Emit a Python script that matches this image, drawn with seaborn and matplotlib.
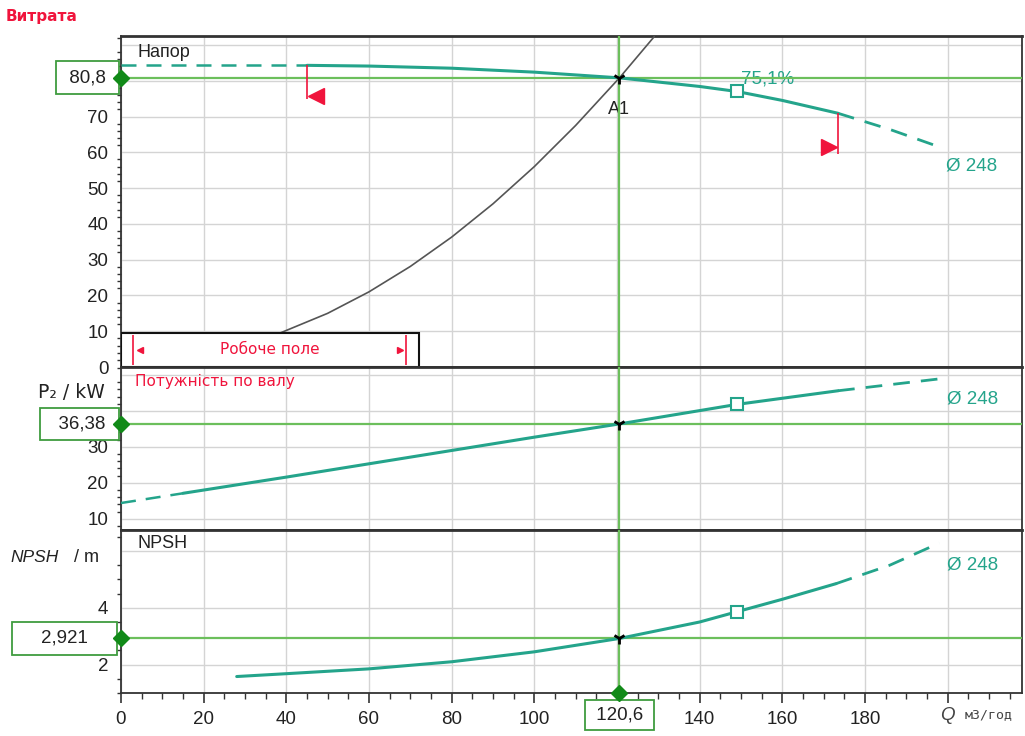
import matplotlib
matplotlib.use("Agg")
import matplotlib.pyplot as plt
import matplotlib.transforms as mtransforms
from matplotlib.ticker import MultipleLocator
import seaborn as sns
import pandas as pd

# ---------------- data ----------------
q_op = 120.6
h_op = 80.8
p_op = 36.38
npsh_op = 2.921

# head curve (Ø 248)
q_head_dl = [0, 45]
h_head_dl = [84.3, 84.3]
q_head = [45, 60, 80, 100, 120.6, 140, 149, 160, 173.5]
h_head = [84.3, 84.1, 83.5, 82.4, 80.8, 78.4, 77.0, 74.5, 70.9]
q_head_dr = [173.5, 186, 198.5]
h_head_dr = [70.9, 66.4, 61.3]

# system curve
q_sys = [0, 20, 38.5, 50, 60, 70, 80, 90, 100, 110, 120.6, 129]
h_sys = [1.4, 3.6, 9.5, 15.0, 21.0, 28.1, 36.3, 45.6, 56.0, 67.5, 80.8, 92.3]

# shaft power
q_pow_dl = [0, 15]
p_pow_dl = [14.4, 17.1]
q_pow = [15, 40, 60, 80, 100, 120.6, 149, 173.5]
p_pow = [17.1, 21.6, 25.3, 29.0, 32.7, 36.38, 41.8, 45.6]
q_pow_dr = [173.5, 198]
p_pow_dr = [45.6, 48.9]

# NPSH
q_npsh = [28, 40, 60, 80, 100, 120.6, 140, 149, 160, 173]
n_npsh = [1.58, 1.68, 1.85, 2.1, 2.45, 2.921, 3.5, 3.86, 4.3, 4.85]
q_npsh_dr = [173, 186, 198]
n_npsh_dr = [4.85, 5.5, 6.28]

# best efficiency point marker
q_bep = 149
h_bep = 77.0
p_bep = 41.8
n_bep = 3.86
eff_label = "75,1%"

# operating range limits
q_min = 45
q_max = 173.5

x_ticks = [0, 20, 40, 60, 80, 100, 120, 140, 160, 180]
h_ticks = [0, 10, 20, 30, 40, 50, 60, 70]
p_ticks = [10, 20, 30]
n_ticks = [2, 4]

# ---------------- style ----------------
sns.set_theme(style="white")
plt.rcParams['font.family'] = ['Liberation Sans', 'DejaVu Sans']

TEAL = "#24a48b"
GREEN = "#6cbf5c"
DGREEN = "#118a18"
BOXG = "#3f9c3f"
RED = "#f0143c"
GRID = "#d4d4d4"
TXT = "#222222"

fig = plt.figure(figsize=(10.25, 7.36), dpi=100)
L, W = 121 / 1025, (1022 - 121) / 1025
ax1 = fig.add_axes([L, 1 - 367 / 736, W, (367 - 36) / 736])
ax2 = fig.add_axes([L, 1 - 530 / 736, W, 163 / 736])
ax3 = fig.add_axes([L, 1 - 693 / 736, W, 163 / 736])


def line(ax, xs, ys, color, ls='-', lw=2.2, z=4):
    df = pd.DataFrame({"q": xs, "v": ys})
    sns.lineplot(data=df, x="q", y="v", ax=ax, color=color, lw=lw, linestyle=ls,
                 estimator=None, sort=False, zorder=z)


dash = (0, (6, 4))

# ---------------- curves ----------------
line(ax1, q_sys, h_sys, "#555555", lw=1.2, z=3)
line(ax1, q_head_dl, h_head_dl, TEAL, ls=dash, lw=1.8)
line(ax1, q_head, h_head, TEAL)
line(ax1, q_head_dr, h_head_dr, TEAL, ls=dash, lw=2.0)

line(ax2, q_pow_dl, p_pow_dl, TEAL, ls=dash, lw=1.8)
line(ax2, q_pow, p_pow, TEAL)
line(ax2, q_pow_dr, p_pow_dr, TEAL, ls=dash, lw=2.0)

line(ax3, q_npsh, n_npsh, TEAL)
line(ax3, q_npsh_dr, n_npsh_dr, TEAL, ls=dash, lw=2.0)

XMAX = 218
ax1.set_ylim(0, 92.5)
ax2.set_ylim(6.9, 52.2)
ax3.set_ylim(1.0, 6.74)
for ax in (ax1, ax2, ax3):
    ax.set_xlim(0, XMAX)
    ax.set_facecolor("white")
    for s in ax.spines.values():
        s.set_color("#333333")
        s.set_linewidth(1.3)
    ax.spines['top'].set_linewidth(2.0)
    ax.xaxis.set_major_locator(MultipleLocator(20))
    ax.grid(True, which='major', color=GRID, lw=1.0)
    ax.set_axisbelow(True)
    ax.tick_params(axis='y', which='major', direction='out', length=6, width=1.2,
                   color='#333333', labelsize=13.5, labelcolor=TXT, pad=3)
    ax.tick_params(axis='y', which='minor', direction='out', length=3, width=1.0,
                   color='#333333', left=True)
    ax.set_xlabel("")
    ax.set_ylabel("")

ax1.set_yticks(h_ticks + [80, 90])
ax1.set_yticklabels([str(t) for t in h_ticks] + ["", ""])
ax1.yaxis.set_minor_locator(MultipleLocator(2))
ax2.set_yticks(p_ticks + [40, 50])
ax2.set_yticklabels([str(t) for t in p_ticks] + ["", ""])
ax2.yaxis.set_minor_locator(MultipleLocator(2))
ax3.set_yticks(n_ticks + [6])
ax3.set_yticklabels([str(t) for t in n_ticks] + [""])
ax3.yaxis.set_minor_locator(MultipleLocator(0.5))

for ax in (ax1, ax2):
    ax.tick_params(axis='x', bottom=False, labelbottom=False)
ax3.set_xticks(x_ticks + [200])
ax3.set_xticklabels([("" if t == 120 else str(t)) for t in x_ticks] + [""])
ax3.xaxis.set_minor_locator(MultipleLocator(5))
ax3.tick_params(axis='x', which='major', direction='out', length=7, width=1.2,
                color='#333333', labelsize=13.5, labelcolor=TXT, bottom=True, pad=6)
ax3.tick_params(axis='x', which='minor', direction='out', length=4, width=1.0,
                color='#333333', bottom=True)

# operating range marks
ax1.vlines([q_min], 74.8, h_head[0], color=RED, lw=1.2, zorder=5)
ax1.plot([q_min + 2.3], [75.6], marker='<', color=RED, ms=11, zorder=5)
ax1.vlines([q_max], 59.4, h_head[-1], color=RED, lw=1.2, zorder=5)
ax1.plot([q_max - 2.3], [61.6], marker='>', color=RED, ms=11, zorder=5)

# "Робоче поле" box
rect = plt.Rectangle((0, 0), 72, 9.5, fc="white", ec="#111111", lw=1.5, zorder=6)
ax1.add_patch(rect)
ax1.vlines([3, 69], 0.5, 9.0, color=RED, lw=1.2, zorder=7)
ax1.plot([4.5], [4.8], marker='<', color=RED, ms=5, zorder=7)
ax1.plot([67.5], [4.8], marker='>', color=RED, ms=5, zorder=7)
ax1.text(36, 4.8, "Робоче поле", color=RED, fontsize=11, ha='center', va='center',
         zorder=8, family=['DejaVu Sans'])

ax1.text(0.018, 0.975, "Напор", transform=ax1.transAxes, fontsize=13, color=TXT,
         ha='left', va='top')
ax1.plot([q_bep], [h_bep], marker='s', ms=8, mfc='white', mec=TEAL, mew=1.5, zorder=6)
ax1.text(q_bep + 1, h_bep + 1.2, eff_label, color=TEAL, fontsize=13.5, ha='left', va='bottom')
ax1.text(198.5 + 1.2, h_head_dr[-1] - 2.8, "Ø 248", color=TEAL, fontsize=13.5, ha='left', va='top')
ax1.text(q_op, h_op - 6.5, "A1", color=TXT, fontsize=13, ha='center', va='top')

ax2.plot([q_bep], [p_bep], marker='s', ms=8, mfc='white', mec=TEAL, mew=1.5, zorder=6)
ax2.text(198 + 1.8, p_pow_dr[-1] - 3.2, "Ø 248", color=TEAL, fontsize=13.5, ha='left', va='top')
ax2.text(0.016, 0.96, "Потужність по валу", transform=ax2.transAxes, color=RED, fontsize=11,
         ha='left', va='top', family=['DejaVu Sans'])

ax3.plot([q_bep], [n_bep], marker='s', ms=8, mfc='white', mec=TEAL, mew=1.5, zorder=6)
ax3.text(198 + 1.8, n_npsh_dr[-1] - 0.47, "Ø 248", color=TEAL, fontsize=13.5, ha='left', va='top')
ax3.text(0.018, 0.97, "NPSH", transform=ax3.transAxes, fontsize=13, color=TXT,
         ha='left', va='top')

# ---------------- operating point lines / boxes ----------------
# (label, box centre in figure pixels)
for ax, val, lab, cx in ((ax1, h_op, " 80,8 ", 87.5), (ax2, p_op, "  36,38 ", 79.5),
                         (ax3, npsh_op, "    2,921    ", 64.5)):
    ax.axvline(q_op, color=GREEN, lw=1.6, zorder=3)
    ax.axhline(val, color=GREEN, lw=1.6, zorder=3)
    ax.plot([0], [val], marker='D', color=DGREEN, ms=8, clip_on=False, zorder=13)
    ax.plot([q_op], [val], marker='1', color='black', ms=9, mew=2.0, zorder=9)
    tr = mtransforms.blended_transform_factory(fig.transFigure, ax.transData)
    ax.text(cx / 1025, val, lab, transform=tr, ha='center', va='center',
            fontsize=13.5, color=TXT,
            bbox=dict(boxstyle='square,pad=0.42', fc='white', ec=BOXG, lw=1.3), zorder=11)
    ax.set_xlabel("")
    ax.set_ylabel("")

trb = mtransforms.blended_transform_factory(ax3.transData, ax3.transAxes)
ax3.plot([q_op], [0], marker='D', color=DGREEN, ms=8, clip_on=False, transform=trb, zorder=13)
ax3.text(q_op, -0.135, " 120,6 ", transform=trb, ha='center', va='center', fontsize=13.5,
         color=TXT, bbox=dict(boxstyle='square,pad=0.33', fc='white', ec=BOXG, lw=1.3), zorder=11)

# axis labels
ax3.text(200, -0.135, "Q", transform=trb, ha='center', va='center', fontsize=13.5,
         color='#444444', style='italic')
ax3.text(204, -0.135, "м3/год", transform=trb, ha='left', va='center', fontsize=9.5,
         color='#444444', family=['DejaVu Sans Mono'])
fig.text(38 / 1025, 1 - 392 / 736, "P₂ / kW", ha='left', va='center', fontsize=13.5, color=TXT,
         family=['DejaVu Sans'])
fig.text(10 / 1025, 1 - 557 / 736, "NPSH", ha='left', va='center', fontsize=12.5, color=TXT,
         style='italic')
fig.text(74 / 1025, 1 - 557 / 736, "/ m", ha='left', va='center', fontsize=13, color=TXT)
fig.text(6 / 1025, 1 - 16 / 736, "Витрата", ha='left', va='center', fontsize=11, color=RED,
         family=['DejaVu Sans'], weight='bold')

fig.savefig("out.png", dpi=100, facecolor="white")
